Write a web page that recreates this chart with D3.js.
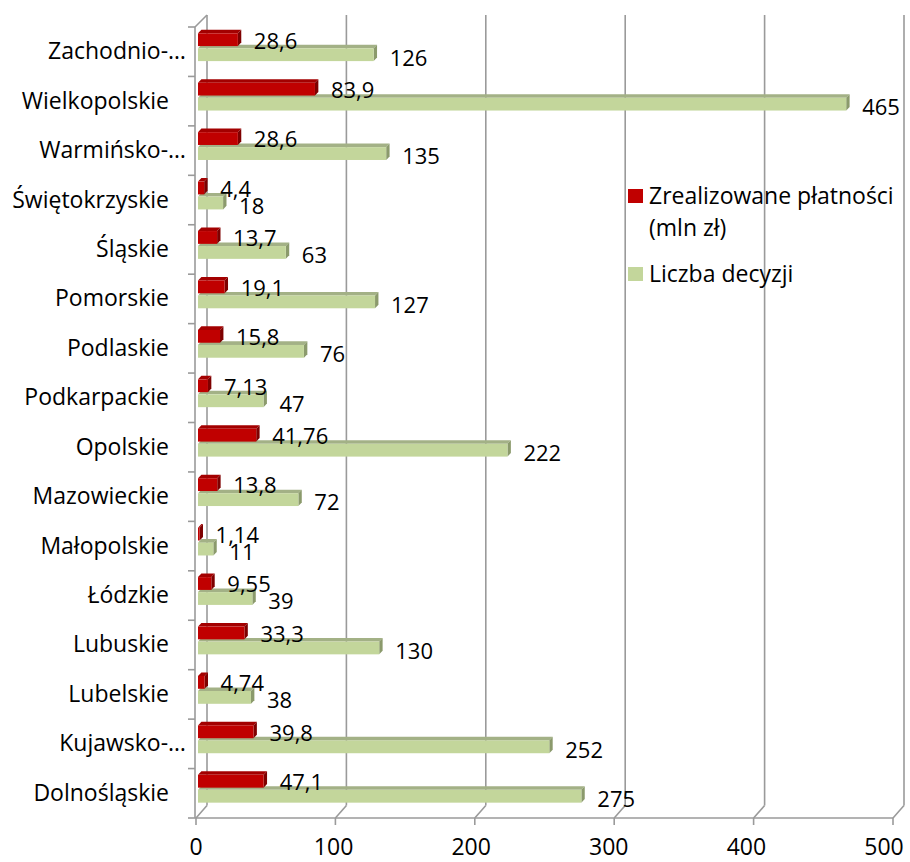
<!DOCTYPE html>
<html><head><meta charset="utf-8">
<script src="https://cdn.jsdelivr.net/npm/d3@7"></script>
<style>
html,body{margin:0;padding:0;background:#fff;}
svg{display:block;font-family:"Open Sans","Noto Sans",sans-serif;}
</style></head>
<body>
<svg id="chart" width="910" height="862"></svg>
<script>
// ---- data (top to bottom as displayed) ----
const categories = ["Zachodnio-…","Wielkopolskie","Warmińsko-…","Świętokrzyskie","Śląskie","Pomorskie","Podlaskie","Podkarpackie","Opolskie","Mazowieckie","Małopolskie","Łódzkie","Lubuskie","Lubelskie","Kujawsko-…","Dolnośląskie"];
const payments = [28.6,83.9,28.6,4.4,13.7,19.1,15.8,7.13,41.76,13.8,1.14,9.55,33.3,4.74,39.8,47.1];
const decisions = [126,465,135,18,63,127,76,47,222,72,11,39,130,38,252,275];
const xTicks = [0,100,200,300,400,500];
const seriesNames = ["Zrealizowane płatności", "(mln zł)"];
const seriesNames2 = ["Liczba decyzji"];

const svg = d3.select("#chart");
const FS = 22, FSL = 23;
const fmt = v => String(v).replace(".", ",");

// scales: front plane, back wall, bar plane
const xFront = d3.scaleLinear().domain([0,500]).range([196,893]);
const xBack  = d3.scaleLinear().domain([0,500]).range([207,904]);
const xBar   = d3.scaleLinear().domain([0,500]).range([198,895]);
const xLab   = d3.scaleLinear().domain([0,500]).range([196,884]);
const y = d3.scaleBand().domain(categories).range([27,818]).padding(0);
const floorF = 818, floorB = 805.5, topB = 15, topF = 27;

const grid = "#9a9a9a";
const g = svg.append("g");

// back wall gridlines
g.selectAll("line.grid").data(xTicks).join("line")
  .attr("x1", d=>xBack(d)).attr("x2", d=>xBack(d))
  .attr("y1", topB).attr("y2", floorB)
  .attr("stroke", grid).attr("stroke-width", 1.6);
// floor diagonals
g.selectAll("line.floor").data(xTicks).join("line")
  .attr("x1", d=>xFront(d)).attr("y1", floorF)
  .attr("x2", d=>xBack(d)).attr("y2", floorB)
  .attr("stroke", grid).attr("stroke-width", 1.6);
// top-left diagonal
g.append("line").attr("x1", xFront(0)-1).attr("y1", topF).attr("x2", xBack(0)).attr("y2", topB)
  .attr("stroke", grid).attr("stroke-width", 1.6);
// front axes
g.append("line").attr("x1", xFront(0)-1).attr("x2", xFront(0)-1).attr("y1", topF).attr("y2", floorF)
  .attr("stroke", grid).attr("stroke-width", 1.6);
g.append("line").attr("x1", xFront(0)-1).attr("x2", xFront(500)).attr("y1", floorF).attr("y2", floorF)
  .attr("stroke", grid).attr("stroke-width", 1.6);
// left ticks at band boundaries
const bounds = categories.map(c => y(c)).concat([y.range()[1]]);
g.selectAll("line.lt").data(bounds).join("line")
  .attr("x1", xFront(0)-8).attr("x2", xFront(0)-1)
  .attr("y1", d=>d).attr("y2", d=>d)
  .attr("stroke", grid).attr("stroke-width", 1.6);
// bottom ticks
g.selectAll("line.bt").data(xTicks).join("line")
  .attr("x1", d=>xFront(d)).attr("x2", d=>xFront(d))
  .attr("y1", floorF).attr("y2", floorF+7)
  .attr("stroke", grid).attr("stroke-width", 1.6);

// bars
const dx = 3.4, dy = -3.6, bh = 12.8;
function bar3d(sel, x0, x1, yTop, cFront, cTop, cSide) {
  const w = Math.max(0, x1 - x0);
  sel.append("path")
    .attr("d", `M${x0},${yTop} L${x0+dx},${yTop+dy} L${x1+dx},${yTop+dy} L${x1},${yTop} Z`)
    .attr("fill", cTop);
  sel.append("path")
    .attr("d", `M${x1},${yTop} L${x1+dx},${yTop+dy} L${x1+dx},${yTop+dy+bh} L${x1},${yTop+bh} Z`)
    .attr("fill", cSide);
  sel.append("rect").attr("x", x0).attr("y", yTop).attr("width", w).attr("height", bh)
    .attr("fill", cFront);
}
const bars = g.append("g");
categories.forEach((c, i) => {
  const b = bars.append("g");
  bar3d(b, xBar(0), xBar(decisions[i]), y(c) + 21.3, "#c3d69b", "#a3b186", "#8b9a6c");
  bar3d(b, xBar(0), xBar(payments[i]), y(c) + 6.3, "#c00000", "#a30000", "#7e0000");
});

// value labels
const lab = g.append("g").attr("font-size", FS).attr("fill", "#000");
lab.selectAll("text.p").data(categories).join("text")
  .attr("x", (c,i)=>xBar(payments[i]) + 16).attr("y", c=>y(c)+21.5)
  .text((c,i)=>fmt(payments[i]));
lab.selectAll("text.d").data(categories).join("text")
  .attr("x", (c,i)=>xBar(decisions[i]) + 16).attr("y", c=>y(c)+38.5)
  .text((c,i)=>fmt(decisions[i]));

// category labels
g.append("g").attr("font-size", FSL).selectAll("text").data(categories).join("text")
  .attr("text-anchor", "end")
  .attr("x", c => c.endsWith("…") ? 186 : 169)
  .attr("y", c => y(c) + y.bandwidth()/2 + 7.5)
  .text(c => c);

// x tick labels
g.append("g").attr("font-size", FSL).selectAll("text").data(xTicks).join("text")
  .attr("text-anchor", "middle").attr("x", d=>xLab(d)).attr("y", 855)
  .text(d=>d);

// legend
const lg = g.append("g").attr("font-size", FSL);
lg.append("rect").attr("x", 628).attr("y", 189).attr("width", 15).attr("height", 14).attr("fill", "#c00000");
lg.selectAll("text.l1").data(seriesNames).join("text")
  .attr("x", 649).attr("y", (d,i)=>204 + i*32).text(d=>d);
lg.append("rect").attr("x", 628).attr("y", 267).attr("width", 15).attr("height", 14).attr("fill", "#c3d69b");
lg.selectAll("text.l2").data(seriesNames2).join("text")
  .attr("x", 649).attr("y", 282).text(d=>d);
</script>
</body></html>
